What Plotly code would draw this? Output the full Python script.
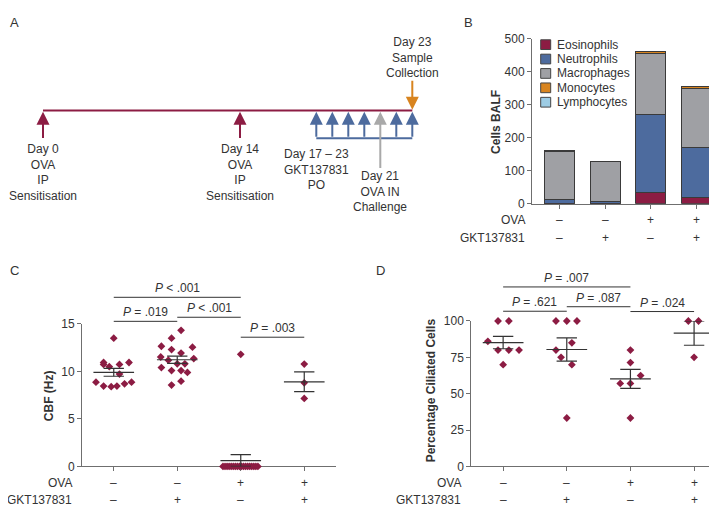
import numpy as np
import plotly.graph_objects as go

W, H = 717, 506
FONT = "Liberation Sans, Arial, Helvetica, sans-serif"
TXT = "#333333"
AXC = "#6f6f6f"
CRIMSON = "#8C1C43"
BLUE = "#4D6B9E"
GRAY = "#9FA0A4"
ORANGE = "#D8841F"
LBLUE = "#9DCCE4"
DARK = "#333333"

# ---------------- data ----------------
groups = [0, 1, 2, 3]
ova_row = ["–", "–", "+", "+"]
gkt_row = ["–", "+", "–", "+"]

# Panel B: BALF cell counts (stacked)
cell_types = ["Eosinophils", "Neutrophils", "Macrophages", "Monocytes", "Lymphocytes"]
balf_eosinophils = [1, 0.5, 33, 20]
balf_neutrophils = [10, 5, 237, 150]
balf_macrophages = [148, 121, 186, 178]
balf_monocytes = [0.5, 0.3, 5, 7]
balf_lymphocytes = [0.3, 0.2, 1, 1]
balf_ticks = [0, 100, 200, 300, 400, 500]

# Panel C: CBF (Hz) per animal
cbf_ctrl = [13.5, 10.94, 10.74, 10.5, 10.74, 10.94, 9.72, 8.87, 8.46, 8.39, 8.46, 8.7, 8.87]
cbf_gkt = [14.32, 13.5, 12.65, 12.55, 12.3, 11.93, 11.52, 11.35, 11.18, 10.8, 10.8,
           10.4, 10.09, 10.09, 9.89, 8.97, 8.56]
cbf_ova = [11.8, 0, 0, 0, 0, 0, 0, 0, 0, 0, 0, 0, 0, 0, 0, 0, 0, 0, 0]
cbf_ova_gkt = [10.77, 8.8, 7.16]
cbf_ticks = [0, 5, 10, 15]
cbf_sig_pairs = [(0, 2), (0, 1), (1, 2), (2, 3)]
cbf_sig_level = [17.8, 15.27, 15.7, 13.6]
cbf_sig_text = ["<i>P</i> &lt; .001", "<i>P</i> = .019", "<i>P</i> &lt; .001", "<i>P</i> = .003"]

# Panel D: percentage ciliated cells
cil_ctrl = [100, 100, 86, 80, 80, 80, 70]
cil_gkt = [100, 100, 100, 80, 85, 75, 70, 33.3]
cil_ova = [80, 71.4, 62.5, 57.1, 57.1, 33.3]
cil_ova_gkt = [100, 100, 75]
cil_ticks = [0, 25, 50, 75, 100]
cil_sig_pairs = [(0, 2), (0, 1), (1, 2), (2, 3)]
cil_sig_level = [123.4, 106.7, 109.8, 106.5]
cil_sig_text = ["<i>P</i> = .007", "<i>P</i> = .621", "<i>P</i> = .087", "<i>P</i> = .024"]

# horizontal jitter (swarm layout, in category units)
cbf_jit = [
    [0, -0.16, -0.16, -0.07, 0.09, 0.24, 0.09, -0.28, -0.16, -0.04, 0.05, 0.17, 0.28],
    [0.06, -0.09, -0.25, 0.24, -0.09, 0.06, -0.26, 0.26, -0.14, 0, 0.12, -0.25, -0.09, 0.06, 0.16, 0.06, -0.09],
    [0] + list(np.linspace(-0.28, 0.27, 18)),
    [0, 0, 0],
]
cil_jit = [
    [-0.08, 0.09, -0.24, -0.08, 0.09, 0.25, 0],
    [-0.17, 0, 0.16, -0.17, 0.08, -0.09, 0.08, 0],
    [0, 0, 0.16, -0.16, 0, 0],
    [-0.09, 0.07, 0],
]

# Panel A: timeline schematic (positions along the schematic, px)
sens_x = [35, 232]
sens_text = ["Day 0<br>OVA<br>IP<br>Sensitisation", "Day 14<br>OVA<br>IP<br>Sensitisation"]
treat_x = [308.3, 324.3, 340.3, 356.3, 388.3, 404.3]
challenge_x = 372.3
collect_x = 404.3
line_y = 98.3
bracket_y = 126.7


def px(x):
    return x / W


def py(y):
    return 1 - y / H


fig = go.Figure()

# ---------------- Panel B ----------------
for name, vals, col in zip(cell_types,
                           [balf_eosinophils, balf_neutrophils, balf_macrophages, balf_monocytes, balf_lymphocytes],
                           [CRIMSON, BLUE, GRAY, ORANGE, LBLUE]):
    fig.add_trace(go.Bar(x=groups, y=vals, name=name, showlegend=False,
                         marker=dict(color=col, line=dict(color="#3a3a3a", width=1)),
                         xaxis="x", yaxis="y"))


def swarm_trace(data, jit, xa, ya):
    xs, ys = [], []
    for g, vals, jj in zip(groups, data, jit):
        for v, j in zip(vals, jj):
            xs.append(g + j)
            ys.append(v)
    return go.Scatter(x=xs, y=ys, mode="markers", xaxis=xa, yaxis=ya, cliponaxis=False,
                      marker=dict(symbol="diamond", size=6, color=CRIMSON), showlegend=False)


def stat_trace(data, xa, ya):
    xs, ys = [], []
    for g, vals in zip(groups, data):
        a = np.array(vals, dtype=float)
        m = a.mean()
        s = a.std(ddof=1) / np.sqrt(len(a))
        lo, hi = max(m - s, 0), m + s
        xs += [g - 0.32, g + 0.32, None, g, g, None, g - 0.16, g + 0.16, None, g - 0.16, g + 0.16, None]
        ys += [m, m, None, lo, hi, None, hi, hi, None, lo, lo, None]
    return go.Scatter(x=xs, y=ys, mode="lines", xaxis=xa, yaxis=ya, cliponaxis=False,
                      line=dict(color=DARK, width=1.2), showlegend=False)


def sig_trace(pairs, levels, xa, ya):
    xs, ys = [], []
    for (a, b), lv in zip(pairs, levels):
        xs += [a, b, None]
        ys += [lv, lv, None]
    return go.Scatter(x=xs, y=ys, mode="lines", xaxis=xa, yaxis=ya,
                      line=dict(color=DARK, width=1), showlegend=False)


cbf_data = [cbf_ctrl, cbf_gkt, cbf_ova, cbf_ova_gkt]
cil_data = [cil_ctrl, cil_gkt, cil_ova, cil_ova_gkt]

fig.add_trace(swarm_trace(cbf_data, cbf_jit, "x2", "y2"))
fig.add_trace(stat_trace(cbf_data, "x2", "y2"))
fig.add_trace(sig_trace(cbf_sig_pairs, cbf_sig_level, "x2", "y5"))

fig.add_trace(swarm_trace(cil_data, cil_jit, "x3", "y3"))
fig.add_trace(stat_trace(cil_data, "x3", "y3"))
fig.add_trace(sig_trace(cil_sig_pairs, cil_sig_level, "x3", "y6"))

# Panel A lines
fig.add_trace(go.Scatter(x=[sens_x[0], collect_x], y=[line_y, line_y], mode="lines",
                         line=dict(color=CRIMSON, width=2), xaxis="x4", yaxis="y4", showlegend=False))
fig.add_trace(go.Scatter(x=[treat_x[0], treat_x[-1]], y=[bracket_y, bracket_y], mode="lines",
                         line=dict(color=BLUE, width=2), xaxis="x4", yaxis="y4", showlegend=False))

# ---------------- axes ----------------
tickfont = dict(family=FONT, size=12, color=TXT)
b_dom_x = [px(524), px(705)]
b_dom_y = [py(194), py(24.3)]
c_dom_x = [px(74), px(328)]
c_dom_y = [py(464.3), py(317.7)]
d_dom_x = [px(463.3), px(716)]
d_dom_y = [py(464.3), py(314.7)]
sig_top = py(250)

common_x = dict(showline=True, linecolor=AXC, linewidth=1, ticks="outside", ticklen=4, tickcolor=AXC,
                tickvals=groups, showticklabels=False, showgrid=False, zeroline=False, fixedrange=True)
common_y = dict(showline=True, linecolor=AXC, linewidth=1, ticks="outside", ticklen=4, tickcolor=AXC,
                tickfont=tickfont, showgrid=False, zeroline=False, fixedrange=True)

fig.update_layout(
    xaxis=dict(common_x, domain=b_dom_x, range=[-0.6, 3.36], anchor="y"),
    yaxis=dict(common_y, domain=b_dom_y, range=[0, 500], tickvals=balf_ticks, anchor="x"),
    xaxis2=dict(common_x, domain=c_dom_x, range=[-0.5, 3.5], anchor="y2", layer="below traces"),
    yaxis2=dict(common_y, domain=c_dom_y, range=[0, 15], tickvals=cbf_ticks, anchor="x2", layer="below traces"),
    xaxis3=dict(common_x, domain=d_dom_x, range=[-0.5, 3.47], anchor="y3", layer="below traces"),
    yaxis3=dict(common_y, domain=d_dom_y, range=[0, 100], tickvals=cil_ticks, anchor="x3", layer="below traces"),
    yaxis5=dict(domain=[c_dom_y[0], sig_top], anchor="x2", visible=False, fixedrange=True,
                range=[0, 15 * (sig_top - c_dom_y[0]) / (c_dom_y[1] - c_dom_y[0])]),
    yaxis6=dict(domain=[d_dom_y[0], sig_top], anchor="x3", visible=False, fixedrange=True,
                range=[0, 100 * (sig_top - d_dom_y[0]) / (d_dom_y[1] - d_dom_y[0])]),
    xaxis4=dict(domain=[0, 1], range=[0, W], visible=False, anchor="y4", fixedrange=True),
    yaxis4=dict(domain=[0, 1], range=[H, 0], visible=False, anchor="x4", fixedrange=True),
    barmode="stack", bargap=0.343,
    width=W, height=H, margin=dict(l=0, r=0, t=0, b=0),
    paper_bgcolor="white", plot_bgcolor="rgba(0,0,0,0)",
    font=dict(family=FONT, size=12, color=TXT),
    hovermode=False, showlegend=False,
)

ann = []
shapes = []


def txt(x, y, text, xanchor="center", yanchor="middle", size=12, xref="paper", yref="paper", **kw):
    ann.append(dict(x=x, y=y, text=text, xref=xref, yref=yref, xanchor=xanchor, yanchor=yanchor,
                    showarrow=False, font=dict(family=FONT, size=size, color=TXT), **kw))


# Panel letters
txt(px(0), py(8), "A", xanchor="left", size=13)
txt(px(454), py(8), "B", xanchor="left", size=13)
txt(px(0), py(263), "C", xanchor="left", size=13)
txt(px(366), py(263), "D", xanchor="left", size=13)

# y titles
txt(px(488), py(110), "<b>Cells BALF</b>", textangle=-90)
txt(px(41), py(392), "<b>CBF (Hz)</b>", textangle=-90)
txt(px(423), py(386), "<b>Percentage Ciliated Cells</b>", textangle=-90)

# treatment rows
for xref, right, rows in [("x", 519, (211, 229)), ("x2", 66, (481.7, 499)), ("x3", 455, (481.7, 499))]:
    txt(px(right), py(rows[0]), "OVA", xanchor="right")
    txt(px(right), py(rows[1]), "GKT137831", xanchor="right")
    for g, o, k in zip(groups, ova_row, gkt_row):
        txt(g, py(rows[0]), o, xref=xref)
        txt(g, py(rows[1]), k, xref=xref)

# significance labels
for pairs, levels, texts, xr, yr in [(cbf_sig_pairs, cbf_sig_level, cbf_sig_text, "x2", "y5"),
                                     (cil_sig_pairs, cil_sig_level, cil_sig_text, "x3", "y6")]:
    for (a, b), lv, t in zip(pairs, levels, texts):
        txt((a + b) / 2, lv, t, yanchor="bottom", xref=xr, yref=yr)

# legend for panel B
leg_cols = [CRIMSON, BLUE, GRAY, ORANGE, LBLUE]
for i, (name, col) in enumerate(zip(cell_types, leg_cols)):
    yc = 30.5 + 14.8 * i
    shapes.append(dict(type="rect", xref="paper", yref="paper", x0=px(532.7), x1=px(542.7),
                       y0=py(yc + 5), y1=py(yc - 5), fillcolor=col, line=dict(color="#444", width=1)))
    txt(px(547), py(yc), name, xanchor="left")

# Panel A arrows


def arrow(x, tip, tail, col):
    ann.append(dict(x=x, y=tip, ax=x, ay=tail, xref="x4", yref="y4", axref="x4", ayref="y4",
                    text="", showarrow=True, arrowhead=2, arrowsize=1.3, arrowwidth=2,
                    arrowcolor=col, standoff=0))


for x in sens_x:
    arrow(x, 99.5, 128, CRIMSON)
for x in treat_x:
    arrow(x, 99.5, bracket_y, BLUE)
arrow(challenge_x, 99.5, 159, "#A9A9A9")
arrow(collect_x, 97.5, 66, ORANGE)

for x, t in zip(sens_x, sens_text):
    txt(x, 129, t, yanchor="top", xref="x4", yref="y4")
txt(treat_x[0], 133.5, "Day 17 – 23<br>GKT137831<br>PO", yanchor="top", xref="x4", yref="y4")
txt(challenge_x, 156, "Day 21<br>OVA IN<br>Challenge", yanchor="top", xref="x4", yref="y4")
txt(collect_x, 18, "Day 23<br>Sample<br>Collection", yanchor="top", xref="x4", yref="y4")

fig.update_layout(annotations=ann, shapes=shapes)
fig.write_html("out.html")
